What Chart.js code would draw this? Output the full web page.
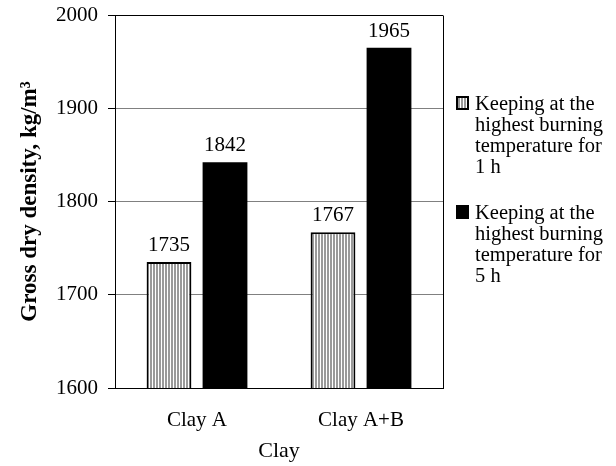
<!DOCTYPE html>
<html>
<head>
<meta charset="utf-8">
<script src="https://cdn.jsdelivr.net/npm/chart.js@4.4.0/dist/chart.umd.min.js"></script>
<style>
  html, body { margin: 0; padding: 0; background: #fff; }
  #wrap { position: relative; width: 616px; height: 466px; }
  #legend { position: absolute; left: 455px; top: 0; font-family: "Liberation Serif", "Times New Roman", serif; font-size: 20.5px; line-height: 21px; color: #000; }
  .item { position: absolute; left: 0; white-space: nowrap; }
  .swatch { position: absolute; left: 1px; top: 3px; width: 13px; height: 14px; box-sizing: border-box; }
  .striped { border: 2px solid #000; background: repeating-linear-gradient(90deg, #9a9a9a 0 2px, #fff 2px 3px); }
  .solid { background: #000; }
  .txt { position: absolute; left: 20px; top: 0; }
</style>
</head>
<body>
<div id="wrap">
  <canvas id="chart" width="616" height="466"></canvas>
  <div id="legend"></div>
</div>
<script>
const categories = ['Clay A', 'Clay A+B'];
const density1h = [1735, 1767];
const density5h = [1842, 1965];
const legendLines1h = ['Keeping at the', 'highest burning', 'temperature for', '1 h'];
const legendLines5h = ['Keeping at the', 'highest burning', 'temperature for', '5 h'];
const yMin = 1600, yMax = 2000, yStep = 100;

const FONT = '"Liberation Serif", "Times New Roman", serif';

// vertical grey/white stripes for the 1 h bars
function stripePattern(ctx) {
  const c = document.createElement('canvas');
  c.width = 3; c.height = 8;
  const g = c.getContext('2d');
  g.fillStyle = '#fff'; g.fillRect(0, 0, 3, 8);
  g.fillStyle = '#9a9a9a'; g.fillRect(0, 0, 2, 8);
  return ctx.createPattern(c, 'repeat');
}

// right edge of the plot box
const frame = {
  id: 'frame',
  afterDraw(chart) {
    const { ctx, chartArea: a } = chart;
    const x = Math.round(a.right) + 0.5;
    ctx.save();
    ctx.strokeStyle = '#000';
    ctx.lineWidth = 1;
    ctx.beginPath();
    ctx.moveTo(x, Math.round(a.top) + 0.5);
    ctx.lineTo(x, Math.round(a.bottom) + 0.5);
    ctx.stroke();
    ctx.restore();
  }
};

// value above each bar
const valueLabels = {
  id: 'valueLabels',
  afterDatasetsDraw(chart) {
    const { ctx } = chart;
    ctx.save();
    ctx.font = '21px ' + FONT;
    ctx.fillStyle = '#000';
    ctx.textAlign = 'center';
    ctx.textBaseline = 'alphabetic';
    chart.data.datasets.forEach((ds, i) => {
      chart.getDatasetMeta(i).data.forEach((bar, j) => {
        ctx.fillText(String(ds.data[j]), bar.x, bar.y - 11);
      });
    });
    ctx.restore();
  }
};

const ctx = document.getElementById('chart').getContext('2d');

new Chart(ctx, {
  type: 'bar',
  data: {
    labels: categories,
    datasets: [
      {
        label: legendLines1h.join(' '),
        data: density1h,
        backgroundColor: stripePattern(ctx),
        borderColor: '#000',
        borderWidth: 2,
        borderSkipped: false,
        categoryPercentage: 0.683,
        barPercentage: 0.8
      },
      {
        label: legendLines5h.join(' '),
        data: density5h,
        backgroundColor: '#000',
        borderColor: '#000',
        borderWidth: 0,
        categoryPercentage: 0.683,
        barPercentage: 0.8
      }
    ]
  },
  options: {
    responsive: false,
    animation: false,
    devicePixelRatio: 1,
    layout: { padding: { left: 0, top: 15, right: 173, bottom: 0 } },
    plugins: {
      legend: { display: false },
      tooltip: { enabled: false }
    },
    scales: {
      x: {
        grid: { display: false, drawTicks: false },
        border: { color: '#000', width: 1 },
        ticks: { color: '#000', font: { family: FONT, size: 21 }, padding: 20 },
        title: { display: true, text: 'Clay', color: '#000', font: { family: FONT, size: 22 }, padding: { top: 0, bottom: 2 } },
        afterFit(s) { s.height = 78; }
      },
      y: {
        min: yMin,
        max: yMax,
        ticks: { stepSize: yStep, color: '#000', font: { family: FONT, size: 21 }, padding: 10, callback: v => String(v) },
        grid: {
          color: c => (c.tick && c.tick.value === yMax) ? '#000' : '#808080',
          tickColor: '#000',
          tickLength: 7
        },
        border: { color: '#000', width: 1 },
        title: {
          display: true,
          text: 'Gross dry density, kg/m³',
          color: '#000',
          font: { family: FONT, size: 23, weight: 'bold' },
          padding: { top: 16, bottom: 0 }
        },
        afterFit(s) {
          s.width = 115;
          s.paddingTop = 12;
          s.paddingBottom = 12;
        }
      }
    }
  },
  plugins: [frame, valueLabels]
});

// legend, laid out like the original: swatch + wrapped text
const legendItems = [
  { cls: 'striped', lines: legendLines1h, top: 93 },
  { cls: 'solid', lines: legendLines5h, top: 202 }
];
const legendEl = document.getElementById('legend');
legendItems.forEach(it => {
  const item = document.createElement('div');
  item.className = 'item';
  item.style.top = it.top + 'px';
  const sw = document.createElement('div');
  sw.className = 'swatch ' + it.cls;
  const txt = document.createElement('div');
  txt.className = 'txt';
  txt.innerHTML = it.lines.join('<br>');
  item.appendChild(sw);
  item.appendChild(txt);
  legendEl.appendChild(item);
});
</script>
</body>
</html>
